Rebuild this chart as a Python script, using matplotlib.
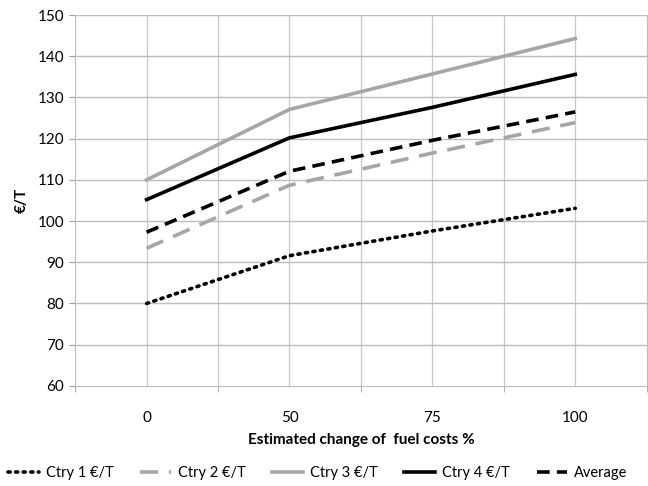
import matplotlib
matplotlib.use("Agg")
import matplotlib.pyplot as plt
import numpy as np

plt.rcParams['font.family'] = ['Lato', 'DejaVu Sans']

# data
categories = ['0', '50', '75', '100']
ctry1 = [80.0, 91.6, 97.6, 103.1]
ctry2 = [93.4, 108.7, 116.5, 123.9]
ctry3 = [110.0, 127.1, 135.7, 144.3]
ctry4 = [105.2, 120.2, 127.6, 135.6]
average = [97.3, 112.1, 119.6, 126.5]

x = np.arange(len(categories))

fig = plt.figure(figsize=(6.48, 4.86), dpi=100)
ax = fig.add_axes([0.116, 0.206, 0.882, 0.763])

lw = 2.6
ax.plot(x, ctry1, color='black', linestyle=(0, (0.6, 1.5)), linewidth=lw,
        dash_capstyle='round', label='Ctry 1 €/T')
ax.plot(x, ctry2, color='#a6a6a6', linestyle=(0, (5, 3)), linewidth=lw, label='Ctry 2 €/T')
ax.plot(x, ctry3, color='#a6a6a6', linestyle='-', linewidth=lw, label='Ctry 3 €/T')
ax.plot(x, ctry4, color='black', linestyle='-', linewidth=lw, label='Ctry 4 €/T')
ax.plot(x, average, color='black', linestyle=(0, (3.5, 2)), linewidth=lw, label='Average')

ax.set_xlim(-0.5, len(categories) - 0.5)
ax.set_ylim(60, 150)
ax.set_yticks(np.arange(60, 151, 10))
ax.set_xticks(x)
ax.set_xticklabels(categories)
ax.set_xticks(np.arange(-0.5, len(categories), 1.0), minor=True)

# grid at centres and at category edges
for xv in np.arange(0, len(categories) - 0.5, 0.5):
    ax.axvline(xv, color='#c8c8c8', linewidth=0.9, zorder=0)
for yv in np.arange(70, 151, 10):
    ax.axhline(yv, color='#bdbdbd', linewidth=1.0, zorder=0)

for s in ax.spines.values():
    s.set_color('#bdbdbd')
ax.tick_params(axis='x', which='major', length=0, pad=18, labelsize=11)
ax.tick_params(axis='x', which='minor', length=4, color='#a0a0a0', direction='out')
ax.tick_params(axis='y', length=4, color='#a0a0a0', labelsize=11, pad=4)

ax.set_xlabel('Estimated change of  fuel costs %', fontsize=11, fontweight='bold', labelpad=6)
ax.set_ylabel('€/T', fontsize=11, fontweight='bold', labelpad=6)

ax.legend(loc='center', bbox_to_anchor=(0.425, -0.235), ncol=5, frameon=False,
          fontsize=10.5, handlelength=2.1, columnspacing=1.8, handletextpad=0.5,
          borderaxespad=0)

fig.savefig('out.png', dpi=100)
